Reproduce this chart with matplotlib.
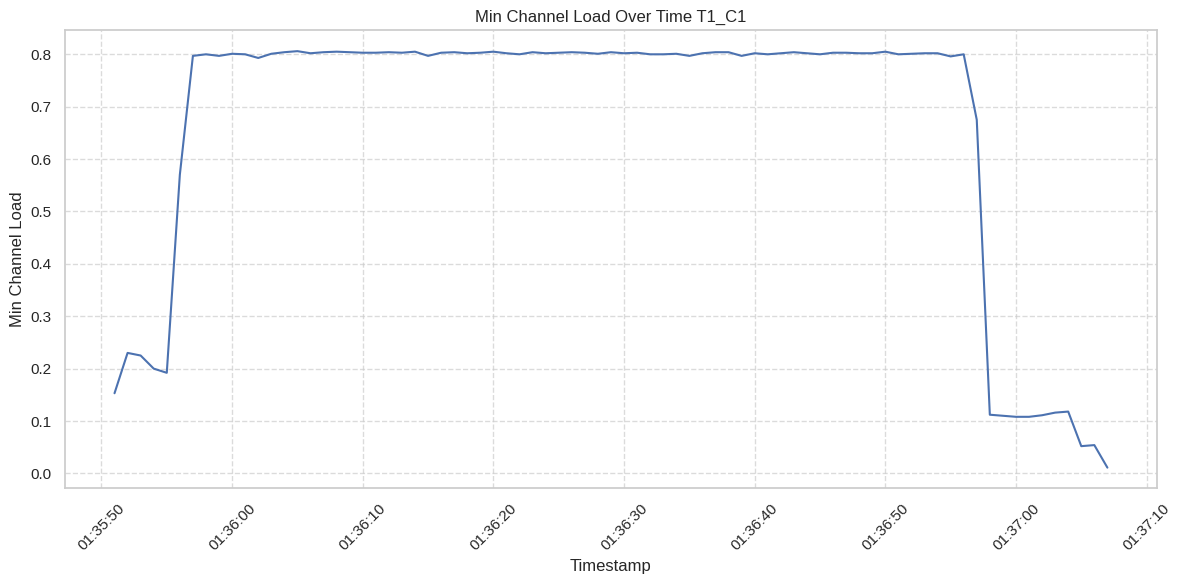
import matplotlib
matplotlib.use("Agg")
import matplotlib.pyplot as plt
import matplotlib.dates as mdates
import seaborn as sns
import pandas as pd

start_time = "2024-01-01 01:35:51"
min_load = [
    0.153, 0.230, 0.225, 0.200, 0.192, 0.570, 0.797, 0.800, 0.797,
    0.801, 0.800, 0.793, 0.801, 0.804, 0.806, 0.802, 0.804, 0.805, 0.804,
    0.803, 0.803, 0.804, 0.803, 0.805, 0.797, 0.803, 0.804, 0.802, 0.803,
    0.805, 0.802, 0.800, 0.804, 0.802, 0.803, 0.804, 0.803, 0.801, 0.804,
    0.802, 0.803, 0.800, 0.800, 0.801, 0.797, 0.802, 0.804, 0.804, 0.797,
    0.802, 0.800, 0.802, 0.804, 0.802, 0.800, 0.803, 0.803, 0.802, 0.802,
    0.805, 0.800, 0.801, 0.802, 0.802, 0.796, 0.800, 0.675, 0.112, 0.110,
    0.108, 0.108, 0.111, 0.116, 0.118, 0.052, 0.054, 0.011,
]
timestamps = pd.date_range(start=start_time, periods=len(min_load), freq="s")

sns.set_theme(style="whitegrid")
plt.rcParams["font.family"] = ["Liberation Sans", "DejaVu Sans"]
fig, ax = plt.subplots(figsize=(12, 6), dpi=100)
ax.plot(timestamps, min_load, color="#4c72b0", linewidth=1.5)
ax.set_title("Min Channel Load Over Time T1_C1")
ax.set_xlabel("Timestamp")
ax.set_ylabel("Min Channel Load")
ax.xaxis.set_major_locator(mdates.SecondLocator(bysecond=[0, 10, 20, 30, 40, 50]))
ax.xaxis.set_major_formatter(mdates.DateFormatter("%H:%M:%S"))
ax.grid(True, linestyle="--", alpha=0.7)
plt.setp(ax.get_xticklabels(), rotation=45)
fig.tight_layout()
fig.savefig("out.png", dpi=100, bbox_inches="tight")
